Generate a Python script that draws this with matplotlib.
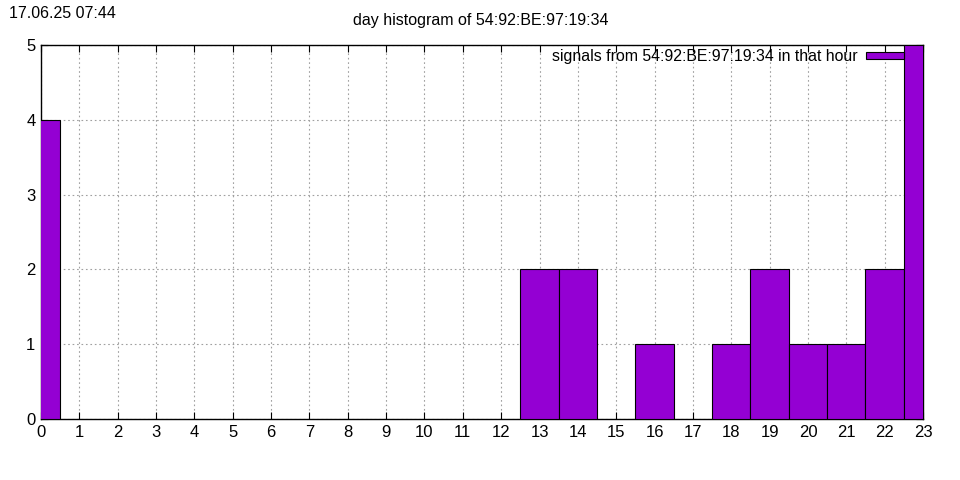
import matplotlib
matplotlib.use('Agg')
import matplotlib.pyplot as plt

plt.rcParams['font.family'] = ['Liberation Sans', 'DejaVu Sans']

hours = [0, 13, 14, 16, 18, 19, 20, 21, 22, 23]
counts = [4, 2, 2, 1, 1, 2, 1, 1, 2, 5]
mac = '54:92:BE:97:19:34'
stamp = '17.06.25 07:44'

fig = plt.figure(figsize=(9.6, 4.8), dpi=100)
ax = fig.add_axes([41/960, 61/480, 882/960, 374/480])

ax.bar(hours, counts, width=1.0, color='#9400D3', edgecolor='black', lw=0.8,
       label='signals from %s in that hour' % mac, zorder=3)

ax.set_xlim(0, 23)
ax.set_ylim(0, 5)
ax.set_xticks(range(0, 24))
ax.set_yticks(range(0, 6))
ax.tick_params(direction='in', top=True, right=True, length=5, labelsize=12,
               width=0.8, pad=4)
ax.grid(True, color='#a0a0a0', ls=(0, (1.5, 2.5)), lw=0.8)
for s in ax.spines.values():
    s.set_linewidth(1.0)

fig.text(481/960, 1 - 21/480, 'day histogram of %s' % mac, ha='center',
         va='center', fontsize=11.5)
fig.text(9/960, 1 - 13/480, stamp, ha='left', va='center', fontsize=11.5)

ax.legend(loc='upper right', bbox_to_anchor=((904 - 41) / 882, 1 - 4/374),
          markerfirst=False, frameon=False, fontsize=11.45,
          handlelength=2.37, handleheight=0.35, borderaxespad=0,
          handletextpad=0.57, borderpad=0)

fig.savefig('out.png')
